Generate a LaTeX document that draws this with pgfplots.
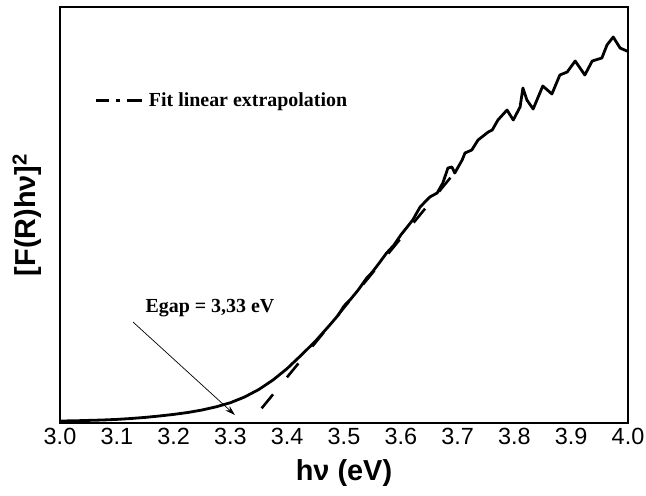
\documentclass[border=0pt]{standalone}
\usepackage{fontspec}
\setmainfont{Liberation Serif}
\newfontfamily\arial{Liberation Sans}
\usepackage{pgfplots}
\pgfplotsset{compat=1.18}
\usetikzlibrary{arrows.meta}
\begin{document}
\begin{tikzpicture}
\begin{axis}[
  at={(0,0)}, anchor=south west,
  scale only axis, width=568bp, height=416bp,
  xmin=3, xmax=4, ymin=0, ymax=416,
  xtick={3.0,3.1,...,4.0},
  /pgf/number format/fixed,
  /pgf/number format/fixed zerofill,
  /pgf/number format/precision=1,
  /pgf/number format/assume math mode=true,
  ytick=\empty,
  major tick length=0pt,
  axis line style={line width=2bp},
  ticklabel style={font=\arial\fontsize{23.5}{23.5}\selectfont},
  x tick label style={yshift=-2bp},
  xlabel={\arial\bfseries hν (eV)},
  xlabel style={font=\arial\bfseries\fontsize{29}{29}\selectfont, at={(axis description cs:0.5,0)}, anchor=center, yshift=-50bp},
  ylabel={\arial\bfseries [F(R)hν]\textsuperscript{2}},
  ylabel style={font=\arial\bfseries\fontsize{29}{29}\selectfont, at={(axis description cs:-0.058,0.5)}, anchor=center},
  legend style={draw=none, fill=none, at={(axis description cs:0.061,0.775)}, anchor=west,
    font=\bfseries\fontsize{20}{20}\selectfont, inner sep=0pt, nodes={inner sep=1.5bp},
    /tikz/every odd column/.append style={column sep=4bp}},
  legend cell align=left,
  legend image code/.code={\draw[#1, dash pattern=on 13bp off 7bp on 4bp off 7bp on 15bp off 10bp] (0bp,0bp) -- (46bp,0bp);},
  clip=false,
]
\addplot[line width=2.8bp, black, forget plot, line join=round] coordinates {
(3.000,2) (3.025,2.2) (3.050,2.6) (3.075,3.0) (3.100,3.6) (3.125,4.5)
(3.150,5.6) (3.175,7.0) (3.200,8.6) (3.225,10.5) (3.250,13) (3.275,16.2)
(3.300,20.3) (3.325,26) (3.350,33.5) (3.375,43) (3.400,54.5) (3.425,68)
(3.450,82) (3.475,98) (3.490,108) (3.500,117) (3.512,124) (3.525,133) (3.540,145) (3.550,151)
(3.562,160) (3.575,170) (3.588,178) (3.600,188) (3.621,203) (3.634,216) (3.651,226) (3.664,230) (3.674,240)
(3.683,255) (3.690,256) (3.695,250) (3.708,263) (3.713,270) (3.725,273)
(3.736,283) (3.754,291) (3.761,293) (3.771,303) (3.787,313) (3.798,303)
(3.810,316) (3.815,335) (3.822,323) (3.833,314) (3.850,337) (3.866,329)
(3.880,348) (3.893,351) (3.907,362) (3.924,348) (3.937,362) (3.954,365)
(3.963,378) (3.974,386) (3.986,375) (3.998,372) (4.000,372)
};
\addplot[line width=2.6bp, black, dash pattern=on 18bp off 22bp] coordinates {
(3.355,14.7) (3.710,261)
};
\addlegendentry{Fit linear extrapolation}
\node[font=\bfseries\fontsize{20}{20}\selectfont] at (axis cs:3.264,115) {Egap = 3,33 eV};
\draw[line width=0.7bp, -{Stealth[length=10bp,width=6bp]}] (axis cs:3.1285,101) -- (axis cs:3.308,8);
\end{axis}
\pgfresetboundingbox
\path[use as bounding box] (-60bp,-73bp) rectangle (586bp,423bp);
\end{tikzpicture}
\end{document}
